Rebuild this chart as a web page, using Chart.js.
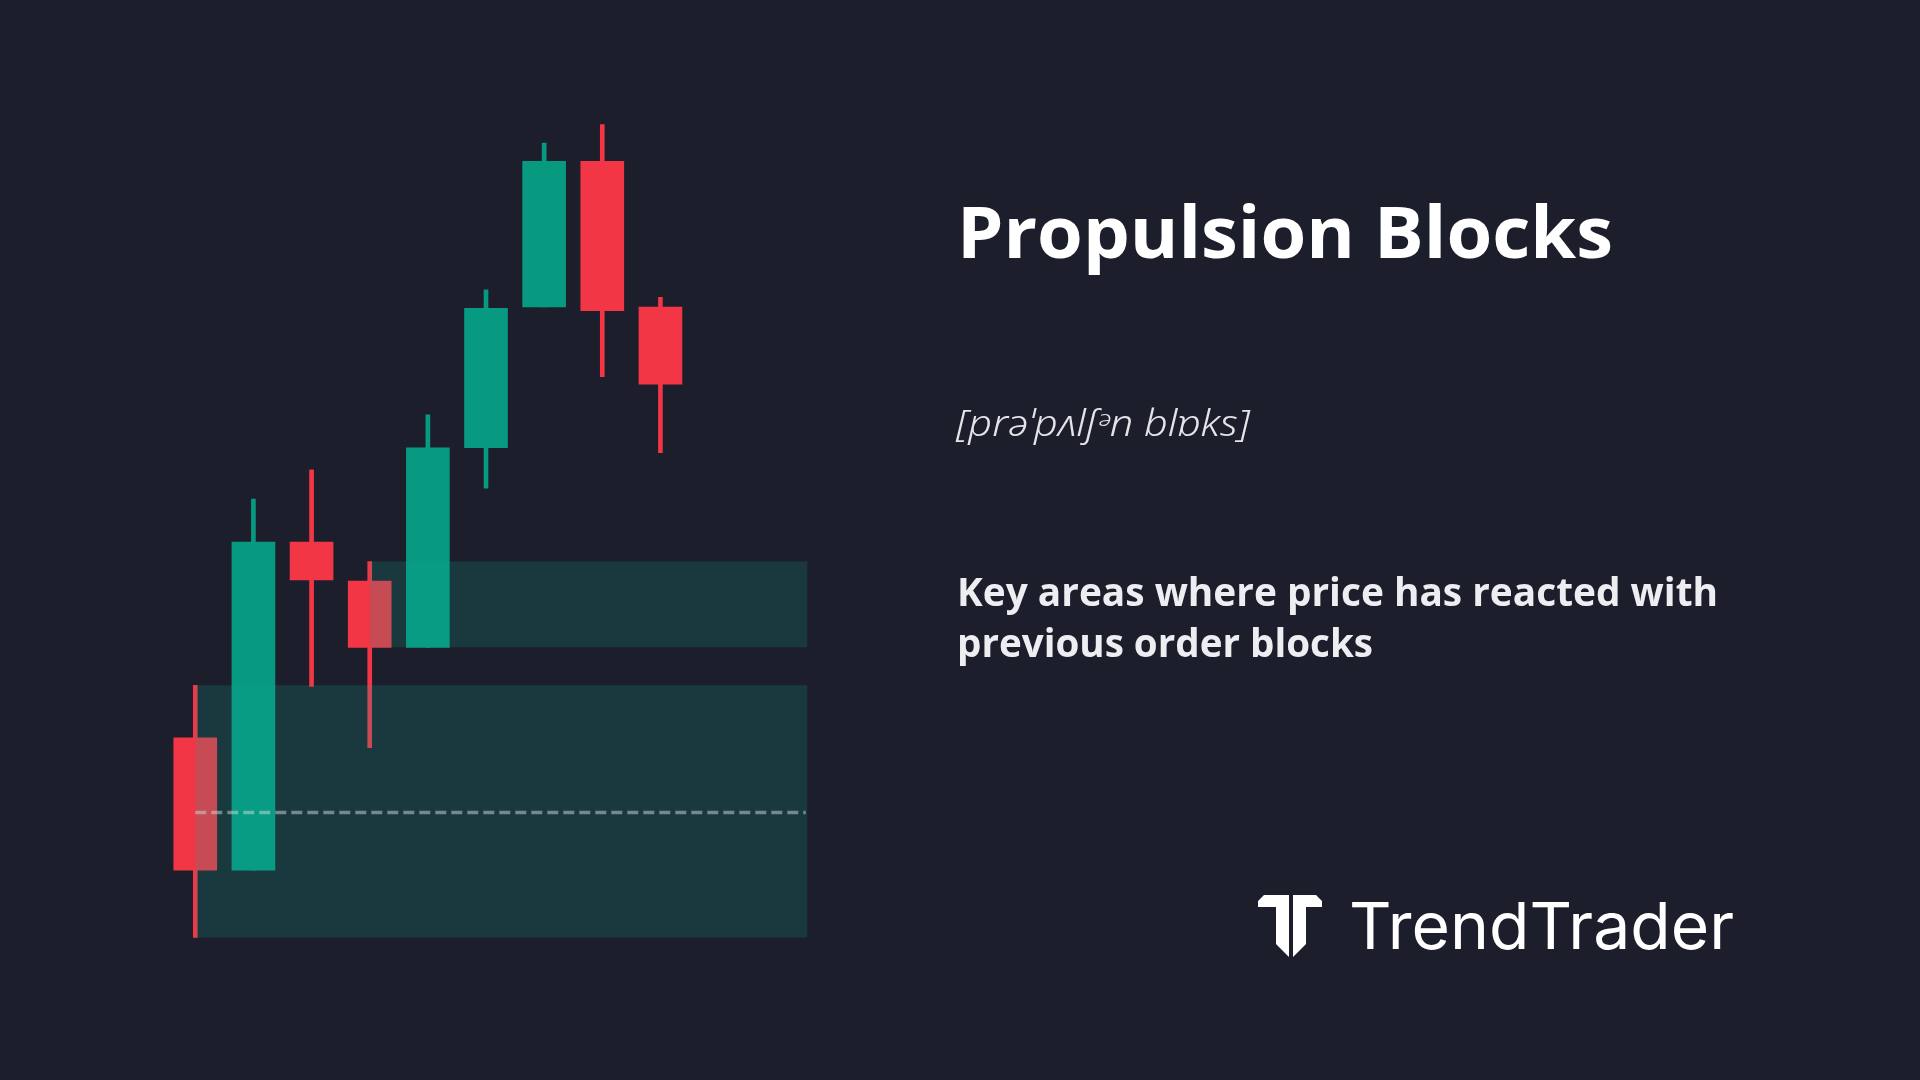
<!DOCTYPE html>
<html>
<head>
<meta charset="utf-8">
<script src="https://cdn.jsdelivr.net/npm/chart.js@4.4.1/dist/chart.umd.min.js"></script>
<style>
  html, body { margin:0; padding:0; width:1920px; height:1080px; background:#1c1f2b; overflow:hidden; }
  #wrap { position:absolute; left:79px; top:61px; width:814px; height:918px; }
  #overlay { position:absolute; left:0; top:0; }
</style>
</head>
<body>
<div id="wrap"><canvas id="c"></canvas></div>
<svg id="overlay" width="1920" height="1080" xmlns="http://www.w3.org/2000/svg">
  <text x="957" y="258" font-family="'Open Sans', sans-serif" font-weight="700" font-size="72" fill="#ffffff" textLength="656" lengthAdjust="spacingAndGlyphs">Propulsion Blocks</text>
  <text x="956" y="436" font-family="'Noto Sans', sans-serif" font-style="italic" font-weight="300" font-size="36" fill="#e4e5ea" textLength="294" lengthAdjust="spacingAndGlyphs">[prəˈpʌlʃᵊn blɒks]</text>
  <text x="957" y="606" font-family="'Open Sans', sans-serif" font-weight="700" font-size="39" fill="#eceef2" textLength="761" lengthAdjust="spacingAndGlyphs">Key areas where price has reacted with</text>
  <text x="957" y="657" font-family="'Open Sans', sans-serif" font-weight="700" font-size="39" fill="#eceef2" textLength="416" lengthAdjust="spacingAndGlyphs">previous order blocks</text>
  <g transform="translate(1250,880)" fill="#ffffff">
    <polygon points="8,21 14,15 39,15 39,77 26,64 26,27 8,27"/>
    <polygon points="43,15 66,15 72,21 72,27 56,27 56,64 43,77"/>
  </g>
  <text x="1349" y="949" font-family="Inter, sans-serif" font-weight="400" font-size="65" fill="#ffffff" textLength="385" lengthAdjust="spacingAndGlyphs">TrendTrader</text>
</svg>
<script>
// ---- data ----
const candleIndex = [0, 1, 2, 3, 4, 5, 6, 7, 8];
const openPrices  = [19.7,  8.9, 35.7, 32.5, 27.1, 43.4, 54.9, 66.8, 54.9];
const closePrices = [ 8.9, 35.7, 32.6, 27.1, 43.4, 54.8, 66.8, 54.6, 48.6];
const highPrices  = [24.0, 39.2, 41.6, 34.1, 46.1, 56.3, 68.3, 69.8, 55.7];
const lowPrices   = [ 3.4,  8.9, 23.9, 18.9, 27.1, 40.1, 54.9, 49.2, 43.0];

// propulsion / order block zones
const zoneStartX = [3, 0];
const zoneEndX   = [10.53, 10.53];
const zoneTop    = [34.1, 24.0];
const zoneBottom = [27.1, 3.4];
// mean threshold of the lower block
const midlineY = 13.6;
const midlineStartX = 0;
const midlineEndX = 10.5;

// ---- styles ----
const UP = '#089981', DOWN = '#f23645';
const ZONE_FILL = 'rgba(15,170,150,0.19)';
const candleColors = candleIndex.map(i => closePrices[i] >= openPrices[i] ? UP : DOWN);

const datasets = [
  {
    type: 'bar', label: 'wicks', order: 5, grouped: false,
    data: candleIndex.map(i => ({ x: i, y: [lowPrices[i], highPrices[i]] })),
    backgroundColor: candleColors, borderWidth: 0, barThickness: 4
  },
  {
    type: 'bar', label: 'bodies', order: 4, grouped: false,
    data: candleIndex.map(i => ({ x: i, y: [openPrices[i], closePrices[i]] })),
    backgroundColor: candleColors, borderWidth: 0, barThickness: 43
  }
];
zoneTop.forEach((t, z) => {
  datasets.push({
    type: 'line', label: 'zoneTop' + z, order: 2,
    data: [{ x: zoneStartX[z], y: t }, { x: zoneEndX[z], y: t }],
    borderColor: 'transparent', borderWidth: 0, pointRadius: 0, fill: false
  });
  datasets.push({
    type: 'line', label: 'zoneBottom' + z, order: 2,
    data: [{ x: zoneStartX[z], y: zoneBottom[z] }, { x: zoneEndX[z], y: zoneBottom[z] }],
    borderColor: 'transparent', borderWidth: 0, pointRadius: 0,
    fill: '-1', backgroundColor: ZONE_FILL
  });
});
datasets.push({
  type: 'line', label: 'midline', order: 0,
  data: [{ x: midlineStartX, y: midlineY }, { x: midlineEndX, y: midlineY }],
  borderColor: 'rgba(205,218,218,0.5)', borderWidth: 3.5, borderDash: [11, 5],
  pointRadius: 0, fill: false
});

new Chart(document.getElementById('c'), {
  type: 'bar',
  data: { datasets },
  options: {
    responsive: true, maintainAspectRatio: false, animation: false, events: [],
    layout: { padding: 0 },
    plugins: { legend: { display: false }, tooltip: { enabled: false } },
    scales: {
      x: { type: 'linear', min: -2, max: 12, offset: false, display: false },
      y: { type: 'linear', min: 0, max: 75, display: false }
    }
  }
});
</script>
</body>
</html>
